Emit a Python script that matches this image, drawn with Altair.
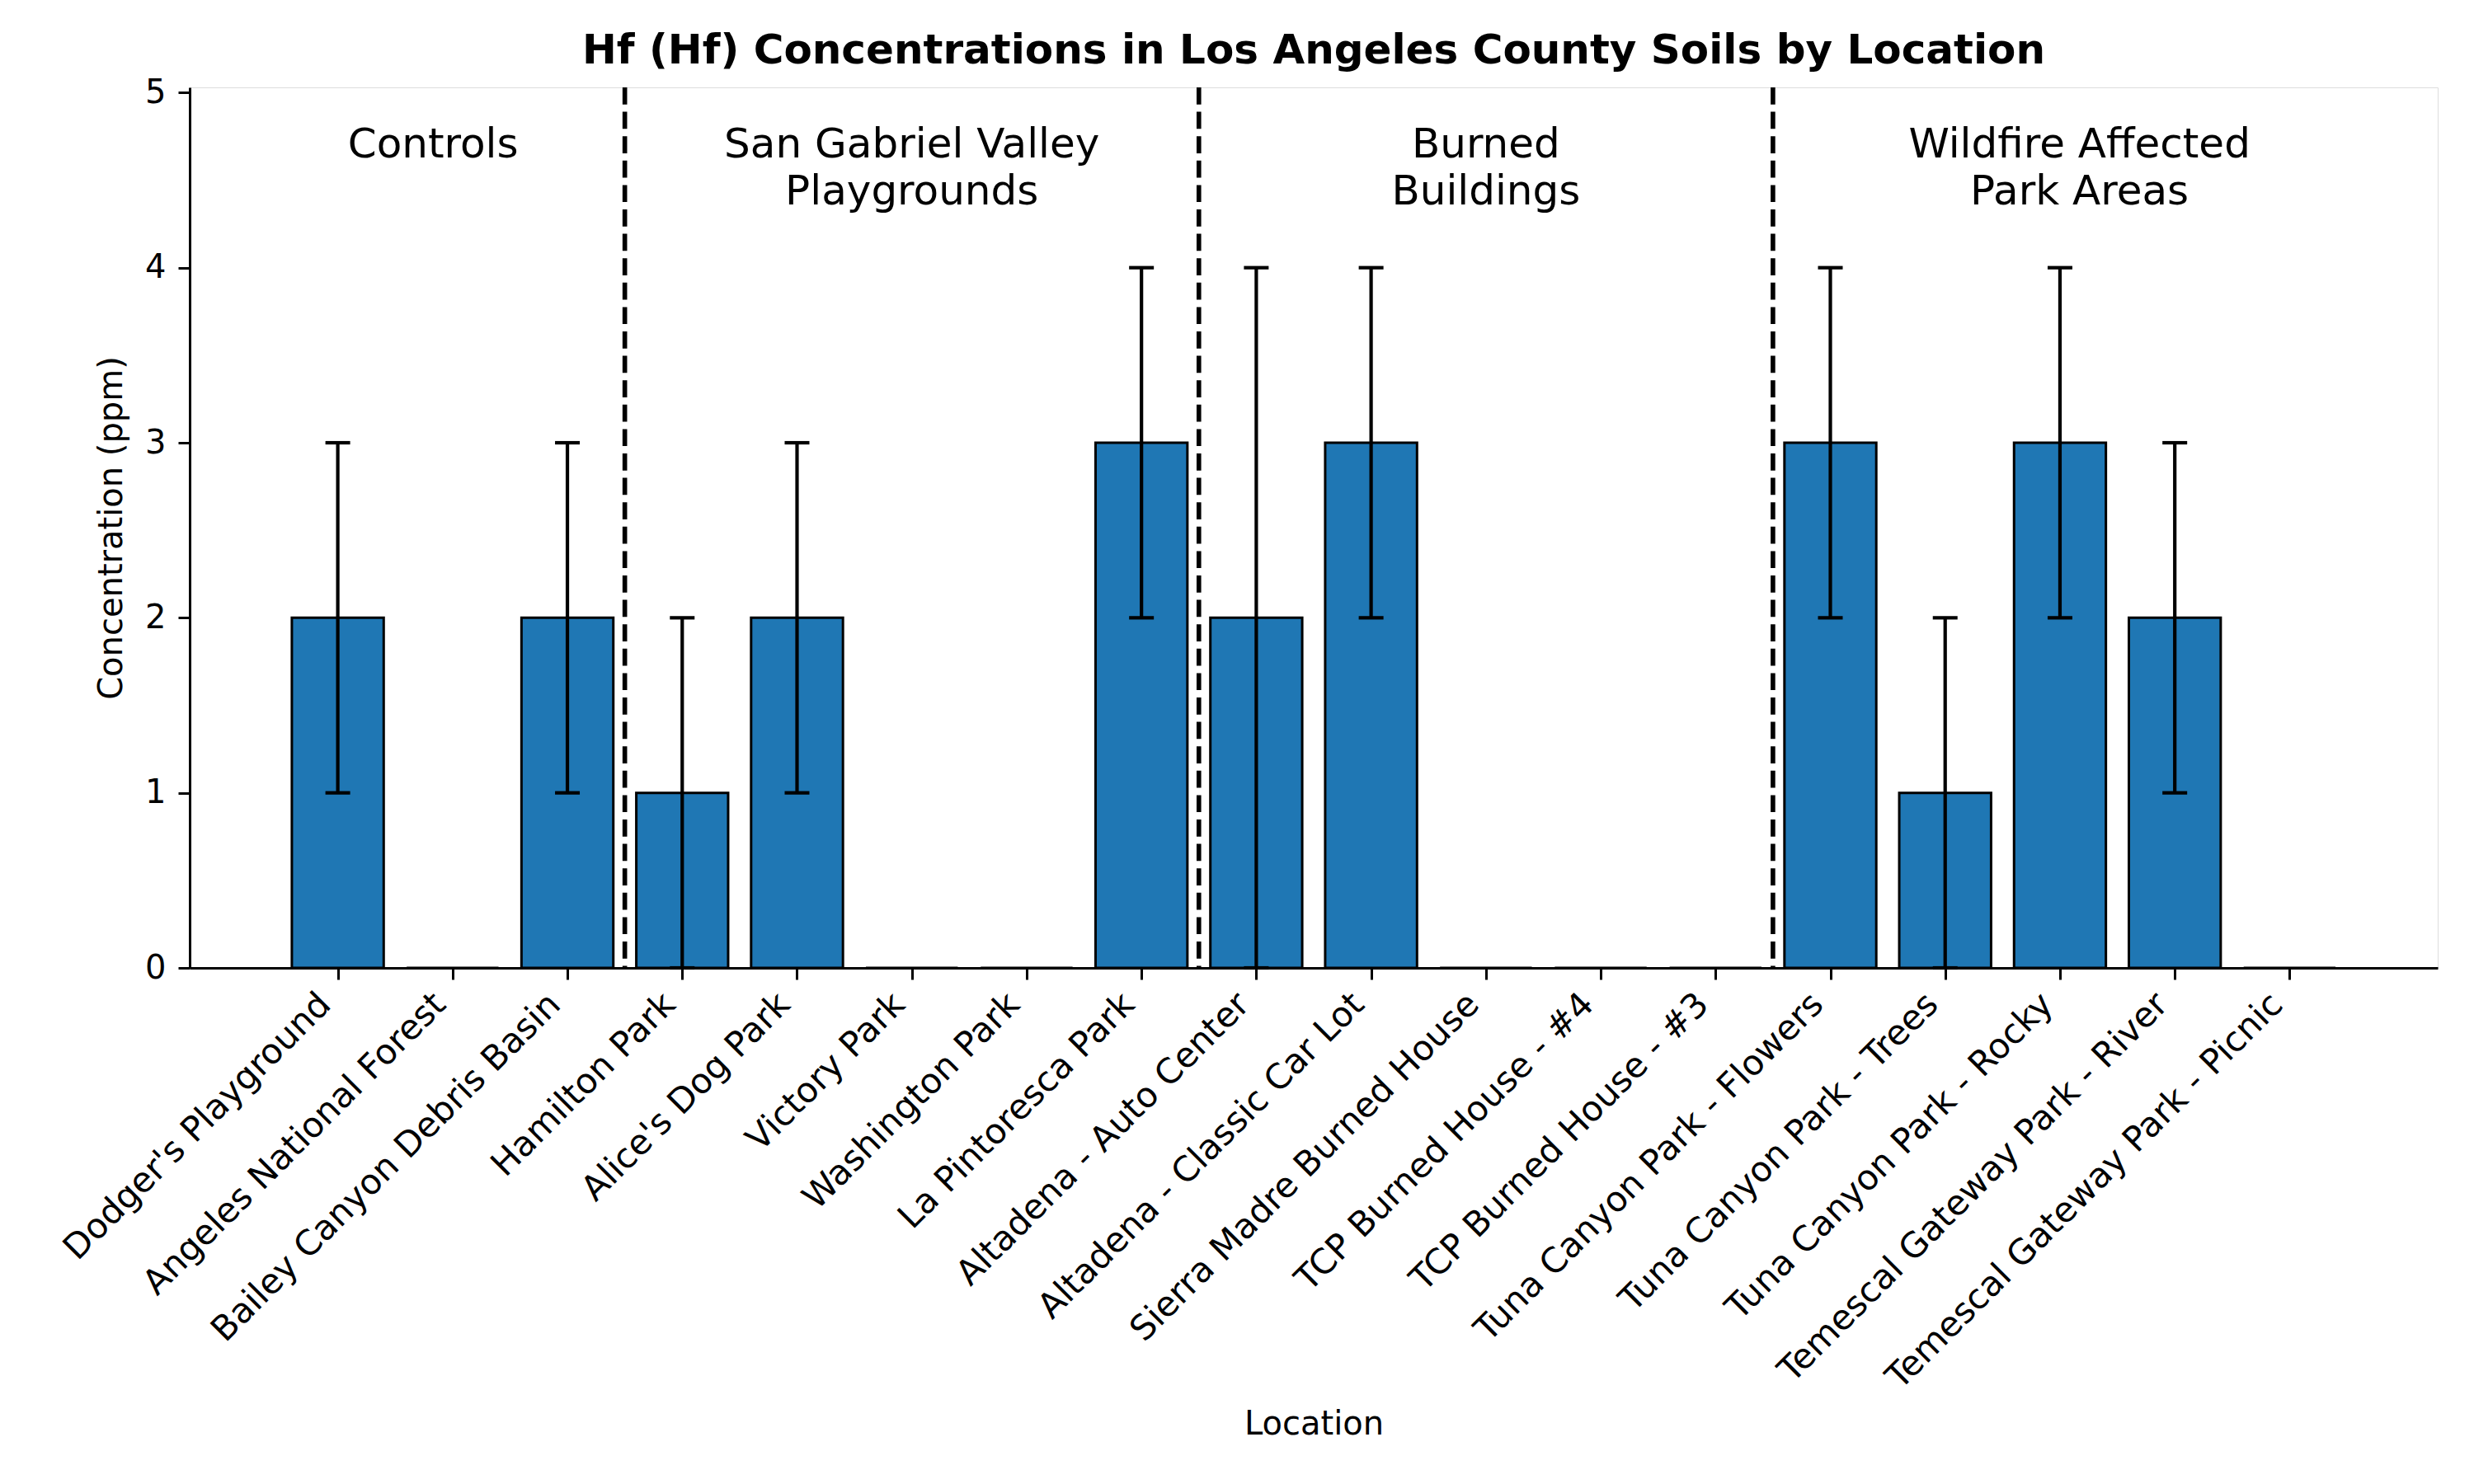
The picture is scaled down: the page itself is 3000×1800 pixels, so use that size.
import json
import altair as alt
import pandas as pd

# ---------------- data ----------------
locations = [
    "Dodger's Playground", "Angeles National Forest", "Bailey Canyon Debris Basin",
    "Hamilton Park", "Alice's Dog Park", "Victory Park", "Washington Park",
    "La Pintoresca Park", "Altadena - Auto Center", "Altadena - Classic Car Lot",
    "Sierra Madre Burned House", "TCP Burned House - #4", "TCP Burned House - #3",
    "Tuna Canyon Park - Flowers", "Tuna Canyon Park - Trees", "Tuna Canyon Park - Rocky",
    "Temescal Gateway Park - River", "Temescal Gateway Park - Picnic",
]
values = [2, 0, 2, 1, 2, 0, 0, 3, 2, 3, 0, 0, 0, 3, 1, 3, 2, 0]
errors = [1, 0, 1, 1, 1, 0, 0, 1, 2, 1, 0, 0, 0, 1, 1, 1, 1, 0]

group_names = ["Controls", "San Gabriel Valley\nPlaygrounds", "Burned\nBuildings",
               "Wildfire Affected\nPark Areas"]
group_label_x = [0.83, 5.0, 10.0, 15.17]
group_label_y = [4.63, 4.63, 4.63, 4.63]
dividers = [2.5, 7.5, 12.5]

title = "Hf (Hf) Concentrations in Los Angeles County Soils by Location"

# ---------------- tables ----------------
df = pd.DataFrame({
    "idx": list(range(len(locations))),
    "location": locations,
    "value": values,
    "err": errors,
})
df["lo"] = df["value"] - df["err"]
df["hi"] = df["value"] + df["err"]
df_err = df[df["err"] > 0]
df_grp = pd.DataFrame({"name": group_names, "gx": group_label_x, "gy": group_label_y})
df_div = pd.DataFrame({"pos": dividers})

FONT = "DejaVu Sans"
W, H = 2726, 1068

xscale = alt.Scale(domain=[-1.29, 18.29], nice=False, zero=False)
yscale = alt.Scale(domain=[0, 5.03], nice=False, zero=False)

label_expr = "[" + ",".join(json.dumps(l) for l in locations) + "][datum.value]"

xaxis = alt.Axis(
    values=list(range(len(locations))), labelExpr=label_expr,
    labelAngle=-45, labelAlign="right", labelBaseline="top", labelOffset=-30,
    labelPadding=9, labelFontSize=42, labelFont=FONT, labelColor="black",
    labelOverlap=False, labelFlush=False, labelBound=False, labelLimit=2000,
    tickSize=14, tickWidth=3, tickColor="black",
    domainColor="black", domainWidth=3, grid=False,
    title="Location", titleFontSize=40, titleFont=FONT, titleFontWeight="normal",
    titleColor="black", titleY=565, titleBaseline="alphabetic",
)
yaxis = alt.Axis(
    values=[0, 1, 2, 3, 4, 5], format="d",
    labelFontSize=40, labelFont=FONT, labelColor="black", labelPadding=15,
    tickSize=14, tickWidth=3, tickColor="black",
    domainColor="black", domainWidth=3, grid=False,
    title="Concentration (ppm)", titleFontSize=40, titleFont=FONT,
    titleFontWeight="normal", titleColor="black",
    titleX=-83, titleY=H / 2, titleAngle=-90, titleAlign="center",
    titleBaseline="alphabetic",
)

base = alt.Chart(df)

bars = base.transform_calculate(
    x0="datum.idx - 0.4", x1="datum.idx + 0.4", zero="0"
).mark_rect(fill="#1f77b4", stroke="black", strokeWidth=3).encode(
    x=alt.X("x0:Q", scale=xscale, axis=xaxis),
    x2="x1:Q",
    y=alt.Y("value:Q", scale=yscale, axis=yaxis),
    y2="zero:Q",
)

err_rules = alt.Chart(df_err).mark_rule(color="black", strokeWidth=4.2).encode(
    x=alt.X("idx:Q", scale=xscale),
    y=alt.Y("lo:Q", scale=yscale),
    y2="hi:Q",
)

caps = alt.Chart(df_err).transform_fold(["lo", "hi"], as_=["end", "yv"]).mark_tick(
    color="black", orient="horizontal", size=30, thickness=4.2, opacity=1
).encode(
    x=alt.X("idx:Q", scale=xscale),
    y=alt.Y("yv:Q", scale=yscale),
)

divs = alt.Chart(df_div).mark_rule(
    color="black", strokeWidth=5.6, strokeDash=[20.7, 8.9]
).encode(x=alt.X("pos:Q", scale=xscale))

glabels = alt.Chart(df_grp).mark_text(
    font=FONT, fontSize=50, lineBreak="\n", lineHeight=57,
    align="center", baseline="alphabetic", color="black",
).encode(
    x=alt.X("gx:Q", scale=xscale),
    y=alt.Y("gy:Q", scale=yscale),
    text="name:N",
)

chart = alt.layer(bars, err_rules, caps, divs, glabels).properties(
    width=W, height=H,
    title=alt.TitleParams(
        text=title, font=FONT, fontSize=50, fontWeight="bold", color="black",
        anchor="middle", offset=-35, baseline="alphabetic",
    ),
    padding={"left": 230, "top": 106, "right": 44, "bottom": 626},
    autosize="none",
).configure_view(
    stroke="black", strokeWidth=3
).configure(background="white")

chart.save("out.html", embed_options={"renderer": "svg", "actions": False})
